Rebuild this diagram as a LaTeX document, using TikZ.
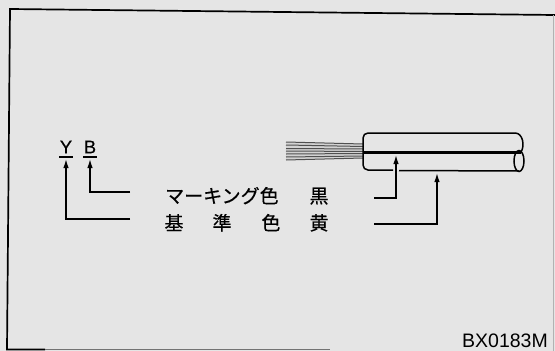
\documentclass[tikz,border=0pt]{standalone}
\usepackage{fontspec}
\setmainfont{Liberation Sans}
\newfontfamily\jpfont[FakeBold=0.5]{Noto Sans CJK JP}
\newfontfamily\lblfont[FakeBold=0.3]{Liberation Sans}
\usetikzlibrary{arrows.meta}
\definecolor{paper}{HTML}{E5E5E5}
\definecolor{strand}{HTML}{505050}
\tikzset{
  lbl/.style={inner sep=0pt, font=\lblfont\fontsize{18.5}{18.5}\selectfont},
  jp/.style={inner sep=0pt, anchor=base, font=\jpfont\fontsize{19}{19}\selectfont},
  leader/.style={line width=1.4pt, -{Latex[length=9pt,width=5.5pt]}},
  outline/.style={line width=1.5pt},
}
\begin{document}
\begin{tikzpicture}[x=1pt,y=-1pt]
  % page and frame
  \fill[paper] (0,0) rectangle (555,351);
  \useasboundingbox (0,0) rectangle (555,351);
  \draw[line width=1.7pt] (555,15) -- (10,9) -- (7,349.5) -- (45,349.5);
  \draw[line width=1.2pt, black!55] (45,349.5) -- (330,349.5);
  \draw[line width=1pt, black!30] (553,15) -- (553,351);

  % colour code letters
  \node[lbl] (Y) at (66,147) {Y};
  \node[lbl] (B) at (90,147) {B};
  \draw[line width=1.4pt] (59,157) -- (73,157);
  \draw[line width=1.4pt] (83,157) -- (97,157);

  % legend text
  \node[jp, anchor=base west] (mark) at (165,203) {マーキング色};
  \node[jp] (black) at (319,203) {黒};
  \node[jp] (ki) at (174,230) {基};
  \node[jp] (jun) at (222,230) {準};
  \node[jp] (iro) at (271,230) {色};
  \node[jp] (yellow) at (319,230) {黄};

  % leaders from the legend to the letters
  \coordinate (bEnd) at (130,192);
  \coordinate (yEnd) at (130,219);
  \draw[leader] (bEnd) -| ([yshift=-2pt]B.south |- 0,157);
  \draw[leader] (yEnd) -| ([yshift=-2pt]Y.south |- 0,157);

  % conductor strands
  \fill[gray!35] (286,142) -- (363,144) -- (363,158) -- (286,160) -- cycle;
  \foreach \a/\b in {142/144, 145/146.5, 148.5/149, 151/151.5, 154/153.5, 157/156, 160/158}
    \draw[strand, line width=1pt] (286,\a) -- (363,\b);

  % insulation jacket
  \fill[paper] (363,133) rectangle (519,171);
  \draw[outline, rounded corners=5pt] (515,133) -- (363,133) -- (363,170) -- (393,170);
  \draw[outline] (399,170.5) -- (519,171);
  \draw[outline] (515,133) .. controls (523,133) and (525,146) .. (521,152);
  \draw[outline] (519,161) ellipse [x radius=5, y radius=10.5];
  % marking stripe
  \draw[line width=3pt] (363,152) -- (521,152);

  % leaders from the legend to the cable
  \coordinate (kuro) at (374,198);
  \coordinate (ki2) at (374,224);
  \coordinate (stripe) at (396,155);
  \coordinate (base) at (437,173);
  \draw[leader] (kuro) -| (stripe);
  \draw[leader] (ki2) -| (base);

  % figure number
  \node[inner sep=0pt, anchor=base east, font=\fontsize{19.5}{19.5}\selectfont] (fig) at (548,347) {BX0183M};
\end{tikzpicture}
\end{document}
